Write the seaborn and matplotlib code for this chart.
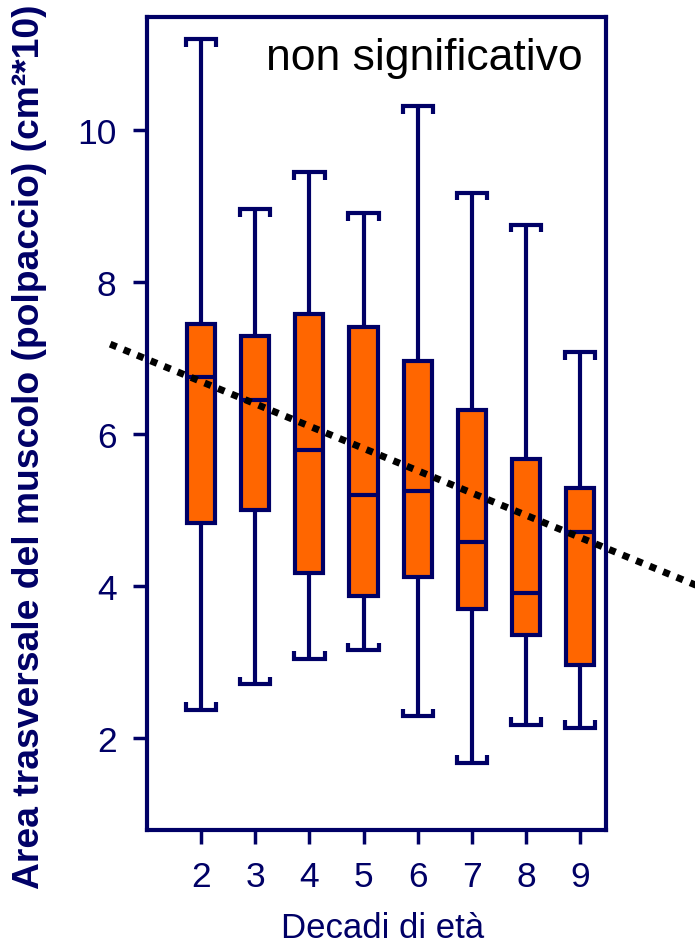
import numpy as np
import pandas as pd
import matplotlib
matplotlib.use("Agg")
import matplotlib.pyplot as plt
import seaborn as sns

# valori (cm^2*10)
decadi = [2, 3, 4, 5, 6, 7, 8, 9]
minimo = [2.38, 2.71, 3.05, 3.16, 2.29, 1.68, 2.18, 2.14]
q1 = [4.84, 5.00, 4.18, 3.87, 4.12, 3.70, 3.36, 2.96]
mediana = [6.75, 6.45, 5.79, 5.20, 5.25, 4.59, 3.91, 4.71]
q3 = [7.45, 7.29, 7.58, 7.41, 6.96, 6.32, 5.68, 5.30]
massimo = [11.20, 8.96, 9.45, 8.91, 10.32, 9.18, 8.76, 7.08]

# retta di tendenza
trend_intercept = 7.28
trend_slope = -0.293
trend_x = [0.32, 11.5]

navy = "#000066"
orange = "#FF6600"
box_w = 0.52

# five values per decade -> quartiles and whiskers come out exactly
rows = []
for i, d in enumerate(decadi):
    for v in [minimo[i], q1[i], mediana[i], q3[i], massimo[i]]:
        rows.append({"decade": d, "area": v})
df = pd.DataFrame(rows)

sns.set_style("white")
plt.rcParams['font.family'] = ['Liberation Sans', 'DejaVu Sans']

fig = plt.figure(figsize=(6.95, 9.45), dpi=100)
ax = fig.add_axes([0.2115, 0.121, 0.6605, 0.86])

sns.boxplot(data=df, x="decade", y="area", native_scale=True,
            color=orange, linecolor=navy, linewidth=3, width=box_w,
            whis=(0, 100), showfliers=False, saturation=1, ax=ax)

# caps as wide as the box, with the little hooks
hook = 0.1
for ln in list(ax.lines):
    xd = np.asarray(ln.get_xdata(), dtype=float)
    yd = np.asarray(ln.get_ydata(), dtype=float)
    if len(yd) != 2 or yd[0] != yd[1]:
        continue
    y = yd[0]
    cx = xd.mean()
    half = box_w / 2 + 0.02
    if np.any(np.isclose(y, massimo)):
        ln.set_data([cx - half, cx - half, cx + half, cx + half],
                    [y - hook, y, y, y - hook])
    elif np.any(np.isclose(y, minimo)):
        ln.set_data([cx - half, cx - half, cx + half, cx + half],
                    [y + hook, y, y, y + hook])
    else:
        continue
    ln.set_solid_joinstyle("miter")
    ln.set_solid_capstyle("butt")

xs = np.array(trend_x)
ax.plot(xs, trend_intercept + trend_slope * xs, color="black", lw=5,
        linestyle=(0, (1, 1.1)), clip_on=False, zorder=5)

ax.set_xlim(1.0, 9.48)
ax.set_ylim(0.8, 11.49)
ax.set_xticks(decadi)
ax.set_xticklabels([str(d) for d in decadi])
ax.set_yticks([2, 4, 6, 8, 10])

ax.tick_params(axis="both", direction="out", length=10, width=2.5,
               color=navy, labelcolor=navy, labelsize=25.5)
ax.tick_params(axis="x", bottom=True, pad=12)
ax.tick_params(axis="y", left=True, pad=12)
for s in ax.spines.values():
    s.set_color(navy)
    s.set_linewidth(3)

ax.text(0.95, 0.936, "non significativo", transform=ax.transAxes,
        ha="right", va="baseline", fontsize=32, color="black")

ax.set_xlabel("Decadi di età", fontsize=25, color=navy)
ax.xaxis.set_label_coords(0.514, -0.132)
ax.xaxis.label.set_verticalalignment("baseline")

ax.set_ylabel("Area trasversale del muscolo (polpaccio) (cm²*10)",
              fontsize=26.8, fontweight="bold", color=navy)
ax.yaxis.set_label_coords(-0.255, 0.4723)
ax.yaxis.label.set_verticalalignment("center")

fig.savefig("out.png", dpi=100)
